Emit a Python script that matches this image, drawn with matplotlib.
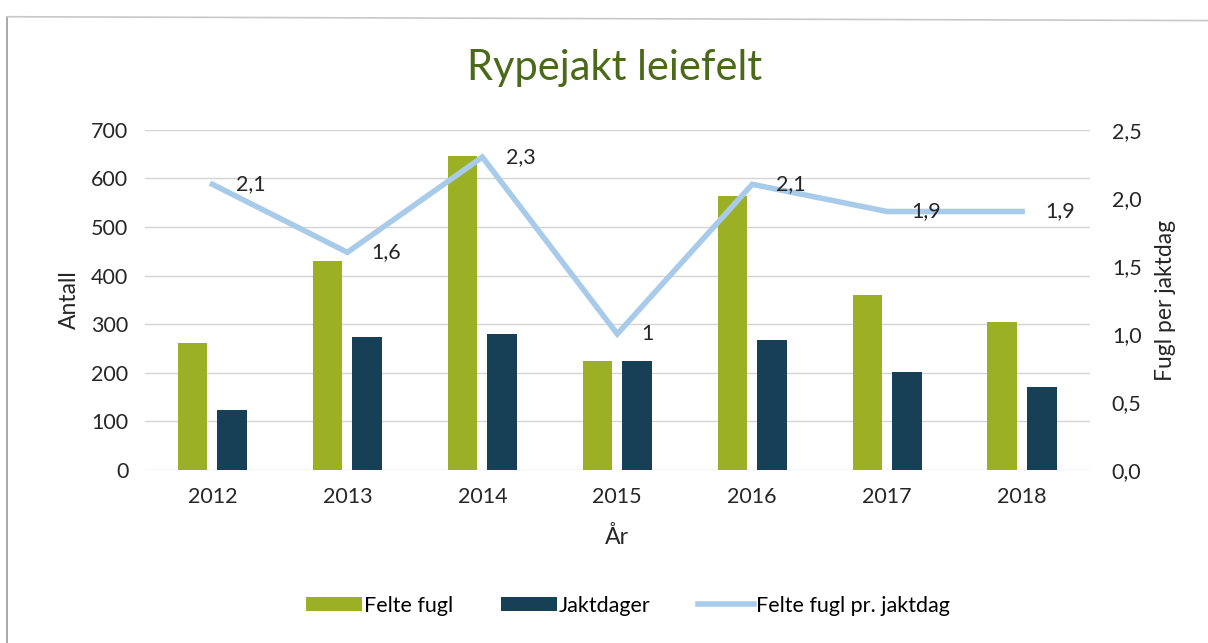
import matplotlib

matplotlib.use("Agg")
import matplotlib.pyplot as plt
import numpy as np
from matplotlib.lines import Line2D
from matplotlib.patches import Patch

plt.rcParams["font.family"] = ["Lato", "DejaVu Sans"]

years = ["2012", "2013", "2014", "2015", "2016", "2017", "2018"]
felte_fugl = [262, 430, 646, 224, 564, 360, 305]
jaktdager = [124, 274, 280, 224, 268, 202, 171]
fugl_per_dag = [2.1, 1.6, 2.3, 1.0, 2.1, 1.9, 1.9]

GREEN = "#9bb025"
NAVY = "#173f55"
LIGHT_BLUE = "#a9cbea"
TEXT = "#262626"


def fmt_no(v: float) -> str:
    s = f"{v:g}"
    return s.replace(".", ",")


fig = plt.figure(figsize=(12.08, 6.43), dpi=100)
ax = fig.add_axes([0.12, 0.269, 0.782, 0.529])
ax2 = ax.twinx()

x = np.arange(len(years))
w = 0.22
ax.bar(x - 0.147, felte_fugl, width=w, color=GREEN, zorder=2)
ax.bar(x + 0.147, jaktdager, width=w, color=NAVY, zorder=2)

ax.set_xlim(-0.5, len(years) - 0.5)
ax.set_ylim(0, 700)
ax.set_yticks(range(0, 701, 100))
ax.set_xticks(x)
ax.set_xticklabels(years)
ax.grid(axis="y", color="#d4d4d4", linewidth=1.0, zorder=0)
ax.set_axisbelow(True)
for s in ax.spines.values():
    s.set_visible(False)
ax.tick_params(length=0, labelsize=15.5, colors=TEXT, pad=12)
ax.tick_params(axis="x", pad=12)
ax.set_ylabel("Antall", fontsize=16.5, color=TEXT, labelpad=8)
ax.set_xlabel("År", fontsize=16.5, color=TEXT, labelpad=14)

ax2.plot(x, fugl_per_dag, color=LIGHT_BLUE, linewidth=4.0, solid_joinstyle="miter", zorder=3)
for xi, v in zip(x, fugl_per_dag):
    ax2.annotate(fmt_no(v), (xi, v), xytext=(17, 0), textcoords="offset points",
                 ha="left", va="center", fontsize=15.5, color=TEXT)
ax2.set_ylim(0, 2.5)
ax2.set_yticks(np.arange(0, 2.51, 0.5))
ax2.set_yticklabels([f"{t:.1f}".replace(".", ",") for t in np.arange(0, 2.51, 0.5)])
for s in ax2.spines.values():
    s.set_visible(False)
ax2.tick_params(length=0, labelsize=15.5, colors=TEXT, pad=16)
ax2.set_ylabel("Fugl per jaktdag", fontsize=16.5, color=TEXT, labelpad=10)

fig.text(0.509, 0.895, "Rypejakt leiefelt", ha="center", va="center",
         fontsize=30, color="#4a6a1a")

handles = [
    Patch(facecolor=GREEN, label="Felte fugl"),
    Patch(facecolor=NAVY, label="Jaktdager"),
    Line2D([0], [0], color=LIGHT_BLUE, linewidth=4.0, label="Felte fugl pr. jaktdag"),
]
fig.legend(handles=handles, loc="center", bbox_to_anchor=(0.52, 0.058), ncol=3,
           frameon=False, fontsize=15.5, handlelength=2.6, handleheight=0.6,
           columnspacing=2.2, handletextpad=0.1)

# frame of the scanned chart box
fig.add_artist(Line2D([0.006, 0.006], [0.0, 0.974], color="#9a9a9a", linewidth=1.2))
fig.add_artist(Line2D([0.006, 1.0], [0.974, 0.968], color="#c8c8c8", linewidth=1.2))

fig.savefig("out.png", dpi=100)
